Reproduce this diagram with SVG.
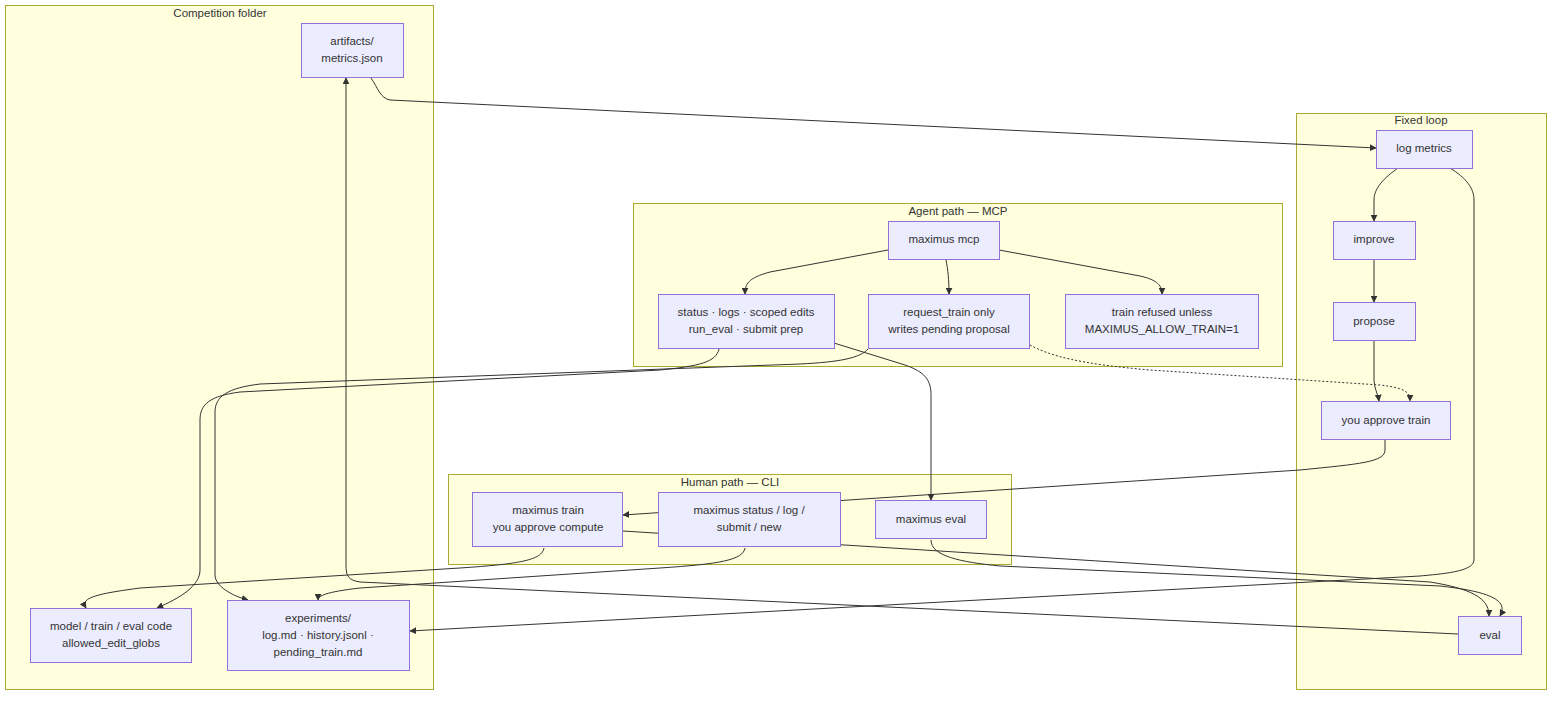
<svg xmlns="http://www.w3.org/2000/svg" width="1568" height="702" viewBox="0 0 1568 702">
<style>
.cl{fill:#ffffde;stroke:#aaaa33;stroke-width:1}
.n{fill:#ececff;stroke:#9370db;stroke-width:1}
text{font-family:"Liberation Sans",Arial,sans-serif;font-size:11.5px;fill:#333;text-anchor:middle}
.e{fill:none;stroke:#333;stroke-width:1}
.d{stroke-dasharray:2 2}
</style>
<defs><marker id="a" viewBox="0 0 10 10" refX="9" refY="5" markerWidth="7" markerHeight="7" orient="auto"><path d="M0,0L10,5L0,10z" fill="#333"/></marker></defs>
<rect width="1568" height="702" fill="#fff"/>
<g id="clusters">
<rect class="cl" x="5.5" y="5.5" width="428" height="684"/><text x="220" y="17">Competition folder</text>
<rect class="cl" x="1296.5" y="113.5" width="250" height="576"/><text x="1421" y="124">Fixed loop</text>
<rect class="cl" x="633.5" y="203.5" width="649" height="163"/><text x="958" y="215">Agent path — MCP</text>
<rect class="cl" x="448.5" y="474.5" width="563" height="90"/><text x="730" y="486">Human path — CLI</text>
</g>
<g id="edges">
<path class="e" marker-end="url(#a)" d="M371,78C378,88 380,98 390,100L1376,148"/>
<path class="e" marker-end="url(#a)" d="M1398,168C1384,178 1374,188 1374,200V221"/>
<path class="e" marker-end="url(#a)" d="M1450,168C1466,178 1474,188 1474,200V560C1474,572 1440,574 1420,576L410,631"/>
<path class="e" marker-end="url(#a)" d="M1374,260V302"/>
<path class="e" marker-end="url(#a)" d="M1374,341V380C1374,388 1378,394 1379,401"/>
<path class="e" marker-end="url(#a)" d="M1385,440V450C1385,462 1360,464 1300,470L623,515"/>
<path class="e" marker-end="url(#a)" d="M888,250L770,272C748,278 745,284 745,294"/>
<path class="e" marker-end="url(#a)" d="M946,260C948,270 949,280 949,294"/>
<path class="e" marker-end="url(#a)" d="M999,250L1140,276C1158,280 1162,286 1162,294"/>
<path class="e" marker-end="url(#a)" d="M719,349C716,362 700,366 660,370L240,392C210,396 200,404 200,420V570C200,586 180,598 157,608"/>
<path class="e" marker-end="url(#a)" d="M868,349C860,358 840,362 800,364L260,384C228,388 215,396 215,412V575C215,586 232,596 248,600"/>
<path class="e" marker-end="url(#a)" d="M834,343L905,365C925,372 931,380 931,395V500"/>
<path class="e d" marker-end="url(#a)" d="M1030,345C1050,356 1080,364 1150,370L1380,385C1405,388 1410,392 1410,401"/>
<path class="e" marker-end="url(#a)" d="M544,548C542,560 520,564 460,568L140,588C95,594 80,598 86,608"/>
<path class="e" marker-end="url(#a)" d="M745,548C743,560 720,564 660,568L360,588C325,592 318,596 318,600"/>
<path class="e" marker-end="url(#a)" d="M623,531L1430,582C1480,590 1489,602 1489,616"/>
<path class="e" marker-end="url(#a)" d="M931,540C931,556 960,562 1000,566L1440,586C1495,592 1508,602 1500,616"/>
<path class="e" marker-end="url(#a)" d="M1458,634L360,582C348,580 346,576 346,565V78"/>
</g>
<g id="artifacts"><rect class="n" x="301.5" y="23.5" width="102" height="54"/><text x="352" y="45">artifacts/</text><text x="352" y="62">metrics.json</text></g>
<g id="logmetrics"><rect class="n" x="1376.5" y="130.5" width="96" height="38"/><text x="1424" y="152">log metrics</text></g>
<g id="improve"><rect class="n" x="1333.5" y="221.5" width="82" height="38"/><text x="1374" y="243">improve</text></g>
<g id="propose"><rect class="n" x="1333.5" y="302.5" width="82" height="38"/><text x="1374" y="325">propose</text></g>
<g id="approve"><rect class="n" x="1321.5" y="401.5" width="129" height="38"/><text x="1386" y="424">you approve train</text></g>
<g id="evalnode"><rect class="n" x="1458.5" y="616.5" width="63" height="38"/><text x="1490" y="639">eval</text></g>
<g id="mcp"><rect class="n" x="888.5" y="221.5" width="111" height="38"/><text x="944" y="243">maximus mcp</text></g>
<g id="status"><rect class="n" x="658.5" y="294.5" width="176" height="54"/><text x="746" y="316">status · logs · scoped edits</text><text x="746" y="333">run_eval · submit prep</text></g>
<g id="reqtrain"><rect class="n" x="868.5" y="294.5" width="161" height="54"/><text x="949" y="316">request_train only</text><text x="949" y="333">writes pending proposal</text></g>
<g id="refused"><rect class="n" x="1065.5" y="294.5" width="193" height="54"/><text x="1162" y="316">train refused unless</text><text x="1162" y="333">MAXIMUS_ALLOW_TRAIN=1</text></g>
<g id="mtrain"><rect class="n" x="472.5" y="492.5" width="150" height="54"/><text x="548" y="514">maximus train</text><text x="548" y="531">you approve compute</text></g>
<g id="mstatus"><rect class="n" x="658.5" y="492.5" width="182" height="54"/><text x="749" y="514">maximus status / log /</text><text x="749" y="531">submit / new</text></g>
<g id="meval"><rect class="n" x="875.5" y="500.5" width="111" height="38"/><text x="931" y="523">maximus eval</text></g>
<g id="code"><rect class="n" x="30.5" y="608.5" width="161" height="54"/><text x="111" y="630">model / train / eval code</text><text x="111" y="647">allowed_edit_globs</text></g>
<g id="experiments"><rect class="n" x="227.5" y="600.5" width="182" height="70"/><text x="318" y="622">experiments/</text><text x="318" y="639">log.md · history.jsonl ·</text><text x="318" y="656">pending_train.md</text></g>
</svg>
